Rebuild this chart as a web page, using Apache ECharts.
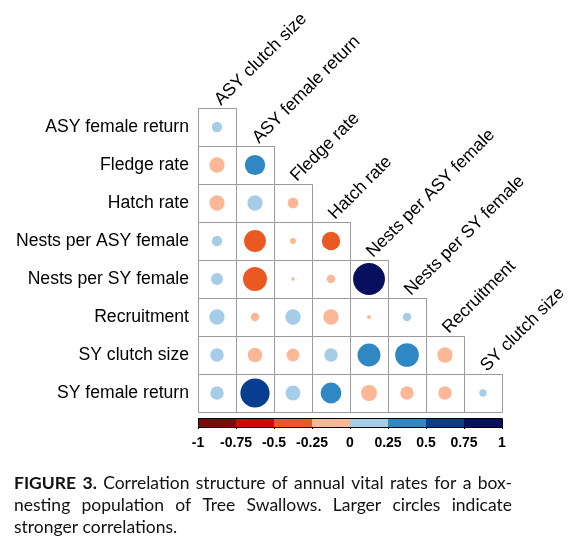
<!DOCTYPE html>
<html>
<head>
<meta charset="utf-8" />
<title>Correlation structure of annual vital rates</title>
<script src="https://cdn.jsdelivr.net/npm/echarts@6/dist/echarts.min.js"></script>
<style>html, body { margin: 0; background: #fff; }</style>
</head>
<body>
<div id="main" style="width: 578px; height: 540px;"></div>
<script type="text/javascript">
// row / column names of the lower-triangle correlation matrix
var rowNames = ['ASY female return', 'Fledge rate', 'Hatch rate', 'Nests per ASY female',
  'Nests per SY female', 'Recruitment', 'SY clutch size', 'SY female return'];
var colNames = ['ASY clutch size', 'ASY female return', 'Fledge rate', 'Hatch rate',
  'Nests per ASY female', 'Nests per SY female', 'Recruitment', 'SY clutch size'];

// correlations, one array per row (columns 0..row)
var corrRows = [
  [0.09],
  [-0.20, 0.35],
  [-0.20, 0.20, -0.10],
  [0.09, -0.41, -0.03, -0.29],
  [0.12, -0.49, -0.01, -0.06, 0.87],
  [0.20, -0.06, 0.20, -0.20, -0.015, 0.06],
  [0.155, -0.18, -0.14, 0.155, 0.45, 0.48, -0.20],
  [0.155, 0.73, 0.19, 0.37, -0.22, -0.155, -0.155, 0.047]
];

// colour key
var colorBreaks = [-1, -0.75, -0.5, -0.25, 0, 0.25, 0.5, 0.75, 1];
var binColors = ['#7c0a0a', '#c90b0b', '#e85a22', '#fcb896',
  '#a6cde7', '#2f87c3', '#083e92', '#06105e'];

// caption
var captionLines = [
  'FIGURE 3. Correlation structure of annual vital rates for a box-',
  'nesting population of Tree Swallows. Larger circles indicate',
  'stronger correlations.'
];
var captionBoldWords = 2;

var labelFont = '"Liberation Sans", Arial, sans-serif';
var labelSize = 17.6;

function binColor(v) {
  var k = Math.min(binColors.length - 1, Math.floor((v + 1) / 0.25));
  return binColors[Math.max(0, k)];
}

var cellData = [];
corrRows.forEach(function (row, i) {
  row.forEach(function (v, j) { cellData.push([j, i, v]); });
});
var diagData = colNames.map(function (n, j) { return [j, j]; });
var keyData = binColors.map(function (c, k) { return [colorBreaks[k], colorBreaks[k + 1], k]; });

function renderCell(params, api) {
  var p = api.coord([api.value(0), api.value(1)]);
  var s = api.size([1, 1]);
  var w = Math.abs(s[0]), h = Math.abs(s[1]);
  var v = api.value(2);
  return {
    type: 'group',
    children: [
      {
        type: 'rect',
        shape: { x: Math.round(p[0] - w / 2) + 0.5, y: Math.round(p[1] - h / 2) + 0.5, width: Math.round(w), height: Math.round(h) },
        style: { fill: '#fff', stroke: '#9a9a9a', lineWidth: 1 }
      },
      {
        type: 'circle',
        shape: { cx: p[0], cy: p[1], r: Math.sqrt(Math.abs(v)) * 0.9 * w / 2 },
        style: { fill: binColor(v) }
      }
    ]
  };
}

// diagonal labels sit on the top of each diagonal cell, turned 45 degrees
function renderColLabel(params, api) {
  var p = api.coord([api.value(0), api.value(1)]);
  var s = api.size([1, 1]);
  return {
    type: 'text',
    x: p[0] + 7,
    y: p[1] - Math.abs(s[1]) / 2 + 1,
    rotation: Math.PI / 4,
    style: {
      text: colNames[params.dataIndex],
      fontSize: labelSize, fontFamily: labelFont, fill: '#000',
      align: 'left', verticalAlign: 'bottom'
    }
  };
}

function renderKey(params, api) {
  var a = api.coord([api.value(0), 0]);
  var b = api.coord([api.value(1), 1]);
  return {
    type: 'rect',
    shape: { x: a[0], y: b[1], width: b[0] - a[0], height: a[1] - b[1] },
    style: { fill: binColors[api.value(2)] }
  };
}

function renderKeyBorder(params, api) {
  var a = api.coord([api.value(0), 0]);
  var b = api.coord([api.value(1), 1]);
  return {
    type: 'rect',
    shape: { x: Math.round(a[0]) + 0.5, y: Math.round(b[1]) + 0.5, width: Math.round(b[0] - a[0]), height: Math.round(a[1] - b[1]) },
    style: { fill: 'none', stroke: '#000', lineWidth: 1 }
  };
}

// justified caption, word by word
var capSize = 17.5;
var ctx = document.createElement('canvas').getContext('2d');
function fontStr(bold) { return (bold ? 'bold ' : '') + capSize + 'px Lato'; }
function textWidth(t, bold) { ctx.font = fontStr(bold); return ctx.measureText(t).width; }

var capLeft = 14, capWidth = 498, capTop = 483, capLineH = 22;
var captionGraphics = [];
captionLines.forEach(function (line, li) {
  var words = line.split(' ');
  var bolds = words.map(function (w, wi) { return li === 0 && wi < captionBoldWords; });
  var widths = words.map(function (w, wi) { return textWidth(w, bolds[wi]); });
  var total = widths.reduce(function (a, b) { return a + b; }, 0);
  var gap = textWidth(' ', false);
  if (li < captionLines.length - 1 && words.length > 1) gap = (capWidth - total) / (words.length - 1);
  var x = capLeft;
  words.forEach(function (w, wi) {
    captionGraphics.push({
      type: 'text', x: x, y: capTop + li * capLineH,
      style: {
        text: w, fontSize: capSize, fontFamily: 'Lato', fontWeight: bolds[wi] ? 'bold' : 'normal',
        fill: '#111', align: 'left', verticalAlign: 'middle'
      }
    });
    x += widths[wi] + gap;
  });
});

var myChart = echarts.init(document.getElementById('main'));

var option = {
  backgroundColor: '#fff',
  animation: false,
  grid: [
    { left: 198, top: 108, width: 304, height: 304 },
    { left: 198, top: 418, width: 304, height: 9 }
  ],
  xAxis: [
    { gridIndex: 0, type: 'category', data: colNames, show: false },
    {
      gridIndex: 1, type: 'value', min: -1, max: 1, interval: 0.25,
      axisLine: { show: false },
      axisTick: { show: true, length: 2, lineStyle: { color: '#000' } },
      axisLabel: { fontSize: 14, fontWeight: 'bold', fontFamily: labelFont, color: '#000', margin: 9 },
      splitLine: { show: false }
    }
  ],
  yAxis: [
    {
      gridIndex: 0, type: 'category', data: rowNames, inverse: true,
      axisLine: { show: false }, axisTick: { show: false },
      axisLabel: { fontSize: labelSize, fontFamily: labelFont, color: '#000', margin: 9 }
    },
    { gridIndex: 1, type: 'value', min: 0, max: 1, show: false }
  ],
  graphic: captionGraphics,
  series: [
    { type: 'custom', xAxisIndex: 0, yAxisIndex: 0, data: cellData, renderItem: renderCell, clip: false, silent: true },
    { type: 'custom', xAxisIndex: 0, yAxisIndex: 0, data: diagData, renderItem: renderColLabel, clip: false, silent: true },
    { type: 'custom', xAxisIndex: 1, yAxisIndex: 1, data: keyData, renderItem: renderKey, silent: true },
    { type: 'custom', xAxisIndex: 1, yAxisIndex: 1, data: [[-1, 1]], renderItem: renderKeyBorder, clip: false, silent: true, z: 3 }
  ]
};

myChart.setOption(option);
</script>
</body>
</html>
